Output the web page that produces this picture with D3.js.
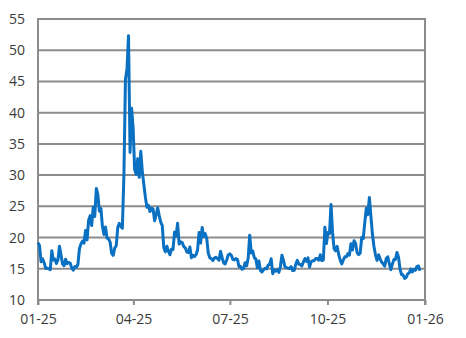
<!DOCTYPE html>
<html>
<head>
<meta charset="utf-8">
<script src="https://cdn.jsdelivr.net/npm/d3@7"></script>
<style>
  body { margin: 0; background: #ffffff; }
</style>
</head>
<body>
<div id="chart"></div>
<script>
// daily closes, one value per trading day (mid Jan 2025 to early Jan 2026)
var janValues = [19.19, 18.71, 16.12, 16.60, 15.97, 15.06, 15.10, 15.02, 14.85, 17.90, 16.41, 16.56, 15.84, 16.43];
var febValues = [18.62, 17.21, 15.77, 15.50, 16.54, 15.81, 16.02, 15.89, 15.10, 14.77, 15.35, 15.27, 15.66, 18.21, 18.98, 19.43, 19.10, 21.13, 19.63];
var marValues = [22.78, 23.51, 21.93, 24.87, 23.37, 27.86, 26.92, 24.23, 24.66, 21.77, 20.51, 21.70, 19.90, 19.80, 19.28, 17.48, 17.15, 18.33, 18.69, 21.65, 22.28];
var aprValues = [21.77, 21.51, 30.02, 45.31, 46.98, 52.33, 33.62, 40.72, 37.56, 30.89, 30.12, 32.64, 29.65, 33.82, 30.57, 28.45, 26.47, 24.84, 25.15, 24.17, 24.70];
var mayValues = [24.60, 22.68, 23.64, 24.76, 23.55, 22.48, 21.90, 18.39, 17.71, 18.62, 17.83, 17.24, 18.14, 18.09, 20.87, 20.28, 22.29, 18.96, 19.31, 19.18, 18.57];
var junValues = [18.36, 17.69, 17.61, 18.48, 16.77, 17.16, 16.95, 17.26, 18.02, 20.82, 19.11, 21.60, 20.14, 20.62, 19.83, 17.48, 16.76, 16.59, 16.32, 16.73];
var julValues = [16.83, 16.64, 16.38, 17.79, 16.81, 15.94, 15.78, 16.40, 17.20, 17.38, 17.16, 16.52, 16.41, 16.65, 16.50, 15.37, 15.39, 14.93, 15.03, 15.98, 15.48, 16.72];
var augValues = [20.38, 17.52, 17.85, 16.77, 16.57, 15.15, 16.25, 14.73, 14.49, 14.83, 15.09, 14.99, 15.57, 15.69, 16.60, 14.22, 14.79, 14.62, 14.85, 14.43, 15.36];
var sepValues = [17.17, 16.35, 15.30, 15.18, 15.11, 15.04, 15.35, 14.71, 14.76, 15.69, 16.36, 15.72, 15.70, 15.45, 16.10, 16.64, 16.18, 16.74, 15.29, 16.12, 16.28];
var octValues = [16.29, 16.63, 16.65, 16.37, 17.24, 16.30, 16.43, 21.66, 19.03, 20.81, 20.64, 25.31, 20.78, 18.23, 17.87, 18.60, 17.30, 16.37, 15.79, 16.42, 16.92, 16.91, 17.44];
var novValues = [17.17, 19.00, 18.01, 19.50, 19.08, 17.60, 17.28, 17.51, 20.00, 19.83, 22.38, 24.69, 23.66, 26.42, 23.43, 20.52, 18.56, 17.19, 16.35];
var decValues = [17.24, 16.59, 16.08, 15.78, 15.41, 16.66, 16.93, 15.77, 14.85, 15.74, 16.50, 16.48, 17.62, 16.87, 14.91, 14.08, 14.00, 13.47, 13.60, 14.20, 14.33, 14.95];
var jan26Values = [14.51, 14.90, 14.75, 15.38, 15.45, 14.69];

var xTickDates = ["2025-01-01", "2025-04-01", "2025-07-01", "2025-10-01", "2026-01-01"];
var yTicks = [10, 15, 20, 25, 30, 35, 40, 45, 50, 55];

var values = [].concat(janValues, febValues, marValues, aprValues, mayValues, junValues,
    julValues, augValues, sepValues, octValues, novValues, decValues, jan26Values);

var width = 466, height = 338;
var margin = { top: 19, right: 41, bottom: 38, left: 38 };
var innerW = width - margin.left - margin.right;
var innerH = height - margin.top - margin.bottom;

var gridColor = "#8c8c8c";
var textColor = "#3a3a3a";
var lineColor = "#0a70c2";

var svg = d3.select("#chart").append("svg")
    .attr("width", width)
    .attr("height", height)
    .style("background-color", "white");

var g = svg.append("g")
    .attr("transform", "translate(" + margin.left + "," + margin.top + ")");

var parseDate = d3.timeParse("%Y-%m-%d");
var tickDates = xTickDates.map(parseDate);

var xTime = d3.scaleTime()
    .domain([tickDates[0], tickDates[tickDates.length - 1]])
    .range([0, innerW]);

// the line is plotted by trading day index
var xIdx = d3.scaleLinear()
    .domain([0, values.length - 1])
    .range([0, innerW - 5]);

var y = d3.scaleLinear()
    .domain([10, 55])
    .range([innerH, 0]);

// horizontal gridlines
g.append("g")
    .attr("class", "grid")
    .selectAll("line")
    .data(yTicks)
    .enter()
    .append("line")
    .attr("x1", 0)
    .attr("x2", innerW)
    .attr("y1", function(d) { return y(d); })
    .attr("y2", function(d) { return y(d); })
    .style("stroke", gridColor)
    .style("stroke-width", 2);

// y axis labels
var yAxis = g.append("g")
    .attr("class", "y-axis")
    .call(d3.axisLeft(y).tickValues(yTicks).tickSize(0).tickPadding(13).tickFormat(d3.format("d")));
yAxis.select(".domain").remove();
yAxis.selectAll("text")
    .style("font-family", "'Open Sans', sans-serif")
    .style("font-size", "14px")
    .style("fill", textColor);

// x axis ticks and labels
var xAxis = g.append("g")
    .attr("class", "x-axis")
    .attr("transform", "translate(0," + innerH + ")")
    .call(d3.axisBottom(xTime).tickValues(tickDates).tickSize(5).tickPadding(9).tickFormat(d3.timeFormat("%m-%y")));
xAxis.select(".domain").remove();
xAxis.selectAll(".tick line")
    .style("stroke", gridColor)
    .style("stroke-width", 2);
xAxis.selectAll("text")
    .style("font-family", "'Open Sans', sans-serif")
    .style("font-size", "14px")
    .style("fill", textColor);

// left and right frame lines
g.append("g")
    .attr("class", "frame")
    .selectAll("line")
    .data([0, innerW])
    .enter()
    .append("line")
    .attr("x1", function(d) { return d; })
    .attr("x2", function(d) { return d; })
    .attr("y1", -1)
    .attr("y2", innerH + 5)
    .style("stroke", gridColor)
    .style("stroke-width", 2);

var line = d3.line()
    .x(function(d, i) { return xIdx(i); })
    .y(function(d) { return y(d); });

g.append("path")
    .datum(values)
    .attr("class", "series")
    .attr("d", line)
    .style("fill", "none")
    .style("stroke", lineColor)
    .style("stroke-width", 3)
    .style("stroke-linejoin", "round");
</script>
</body>
</html>
